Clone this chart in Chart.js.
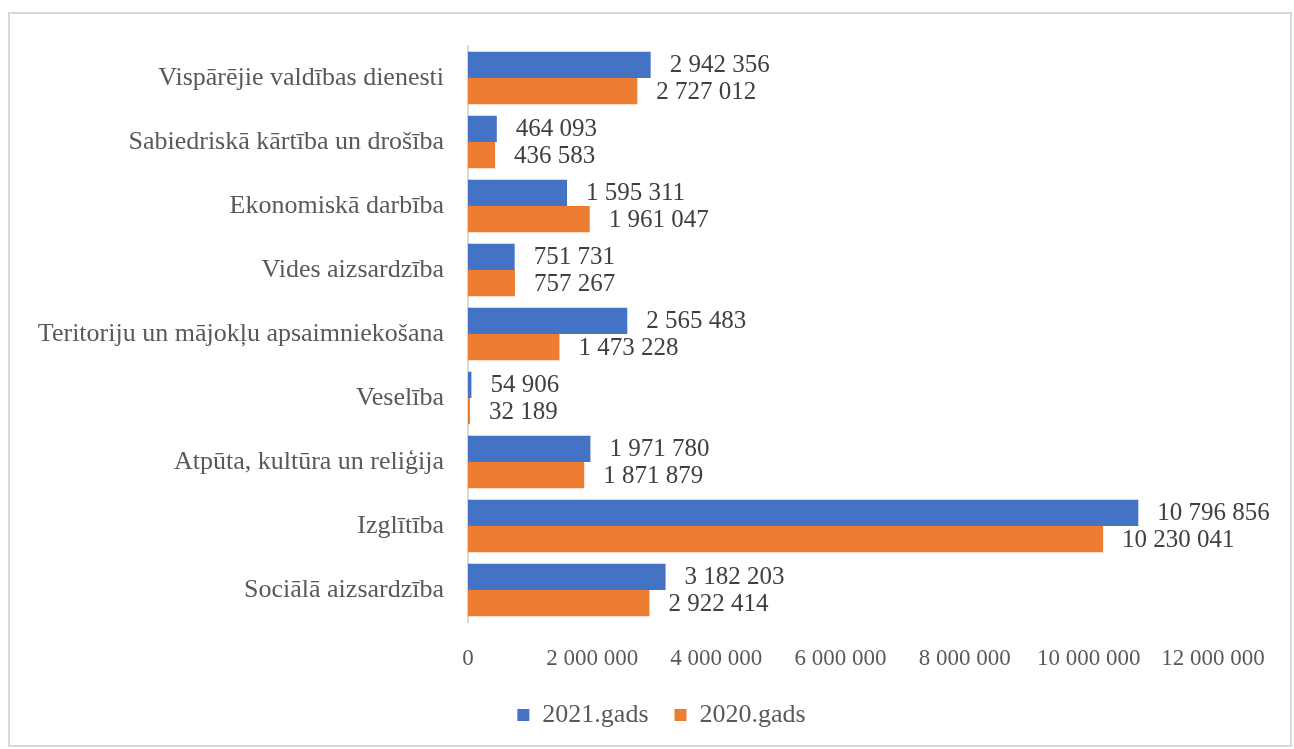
<!DOCTYPE html>
<html>
<head>
<meta charset="utf-8">
<script src="https://cdn.jsdelivr.net/npm/chart.js@4"></script>
<style>
  body { margin: 0; background: #fff; }
  #wrap { position: absolute; left: 8px; top: 12px; width: 1280px; height: 731px; border: 2px solid #d9d9d9; }
  canvas { display: block; }
</style>
</head>
<body>
<div id="wrap"><canvas id="chart" width="1280" height="731"></canvas></div>
<script>
const categories = [
    'Vispārējie valdības dienesti',
    'Sabiedriskā kārtība un drošība',
    'Ekonomiskā darbība',
    'Vides aizsardzība',
    'Teritoriju un mājokļu apsaimniekošana',
    'Veselība',
    'Atpūta, kultūra un reliģija',
    'Izglītība',
    'Sociālā aizsardzība'
];
const values2021 = [2942356, 464093, 1595311, 751731, 2565483, 54906, 1971780, 10796856, 3182203];
const values2020 = [2727012, 436583, 1961047, 757267, 1473228, 32189, 1871879, 10230041, 2922414];
const seriesNames = ['2021.gads', '2020.gads'];

// skaitļi ar atstarpi kā tūkstošu atdalītāju
function fmt(v) {
    return String(v).replace(/\B(?=(\d{3})+(?!\d))/g, ' ');
}

// vērtību uzraksti pa labi no stabiņiem
const valueLabels = {
    id: 'valueLabels',
    afterLayout(chart) {
        // leģendu nobīda pa labi, lai tā būtu centrēta kā oriģinālā
        chart.legend.left += 50;
        chart.legend.right += 50;
    },
    afterDatasetsDraw(chart) {
        const ctx = chart.ctx;
        ctx.save();
        ctx.font = '25px "Liberation Serif"';
        ctx.fillStyle = '#404040';
        ctx.textAlign = 'left';
        ctx.textBaseline = 'middle';
        chart.data.datasets.forEach((ds, i) => {
            chart.getDatasetMeta(i).data.forEach((bar, j) => {
                ctx.fillText(fmt(ds.data[j]), bar.x + 19, bar.y + 1);
            });
        });
        ctx.restore();
    }
};

const ctx = document.getElementById('chart').getContext('2d');
new Chart(ctx, {
    type: 'bar',
    data: {
        labels: categories,
        datasets: [
            { label: seriesNames[0], data: values2021, backgroundColor: '#4472c4', categoryPercentage: 0.82, barPercentage: 1 },
            { label: seriesNames[1], data: values2020, backgroundColor: '#ed7d31', categoryPercentage: 0.82, barPercentage: 1 }
        ]
    },
    options: {
        indexAxis: 'y',
        responsive: false,
        animation: false,
        layout: { padding: { top: 32, right: 77, left: 0, bottom: 7 } },
        scales: {
            x: {
                min: 0, max: 12000000,
                afterFit: scale => { scale.height = 54; },
                ticks: { stepSize: 2000000, color: '#595959', padding: 15, font: { family: 'Liberation Serif', size: 23 }, callback: v => fmt(v), maxRotation: 0, autoSkip: false },
                grid: { display: false },
                border: { display: false }
            },
            y: {
                afterFit: scale => { scale.width = 458; },
                ticks: { color: '#595959', padding: 16, font: { family: 'Liberation Serif', size: 26 } },
                grid: { display: false },
                border: { color: '#d9d9d9', width: 2 }
            }
        },
        plugins: {
            legend: {
                position: 'bottom',
                labels: { color: '#595959', boxWidth: 12, boxHeight: 12, padding: 26, font: { family: 'Liberation Serif', size: 26 } }
            },
            tooltip: { enabled: false }
        }
    },
    plugins: [valueLabels]
});
</script>
</body>
</html>
